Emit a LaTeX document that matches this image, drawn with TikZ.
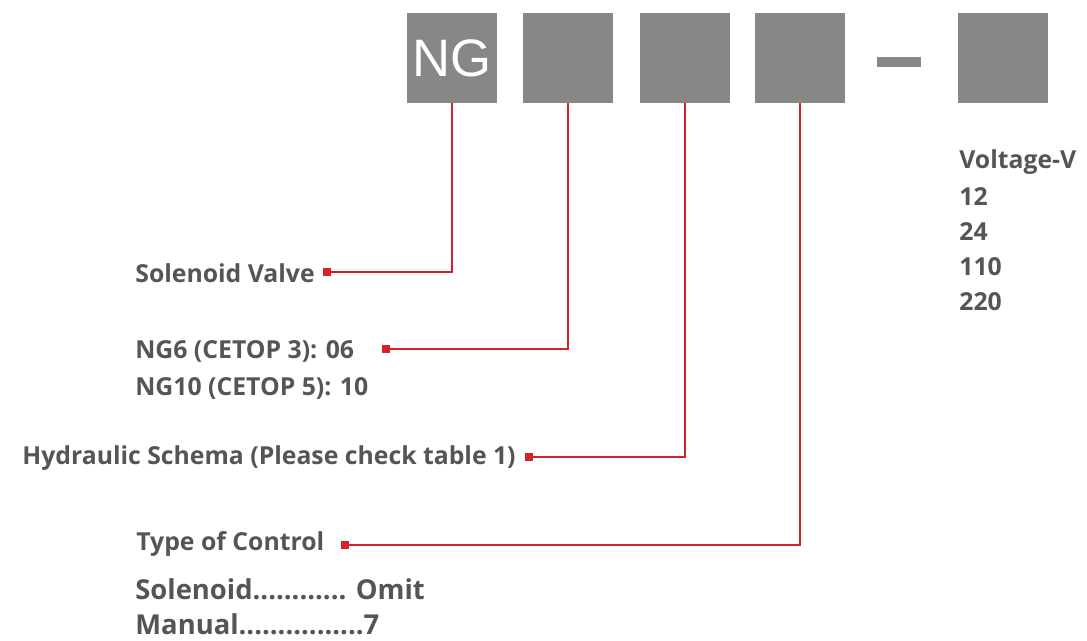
\documentclass[tikz,border=0pt]{standalone}
\usepackage{fontspec}
\setmainfont{Open Sans}
\newfontfamily\boxfont{Liberation Sans}
\usetikzlibrary{positioning}
\definecolor{boxgrey}{HTML}{878786}
\definecolor{textgrey}{HTML}{555555}
\definecolor{linered}{HTML}{D3222A}
\tikzstyle{codebox} = [fill=boxgrey, minimum width=1.8cm, minimum height=1.8cm, inner sep=0pt]
\tikzstyle{label} = [textgrey, anchor=west, inner sep=0pt, font=\fontsize{14.1}{17}\selectfont\bfseries]
\tikzstyle{biglabel} = [label, font=\fontsize{15.6}{19}\selectfont\bfseries]
\tikzstyle{marker} = [fill=linered, minimum size=0.15cm, inner sep=0pt]
\tikzstyle{link} = [linered, line width=0.9pt]
\newcommand{\codeBox}[3]{
  \node[codebox] (#1) at (#2,58) {#3};
}

\begin{document}
\begin{tikzpicture}[x=0.02cm,y=-0.02cm]
      \useasboundingbox (0,0) rectangle (1087,641);

      % order code boxes
      \codeBox{b1}{452}{\boxfont\fontsize{30}{30}\selectfont\color{white}NG}
      \codeBox{b2}{568}{}
      \codeBox{b3}{685}{}
      \codeBox{b4}{800}{}
      \codeBox{b5}{1003}{}
      \node[fill=boxgrey, minimum width=0.88cm, minimum height=0.2cm, inner sep=0pt] (dash) at (899,62) {};

      % labels
      \node[label] (valve) at (135,273) {Solenoid Valve};
      \node[label] (ng6) at (135,351) {NG6 (CETOP 3): 06};
      \node[label] (ng10) at (135,388) {NG10 (CETOP 5): 10};
      \node[label] (schema) at (22,458) {Hydraulic Schema (Please check table 1)};
      \node[label] (control) at (136,544) {Type of Control};
      \node[biglabel] (sol) at (135,589) {Solenoid............ Omit};
      \node[biglabel] (man) at (135,624) {Manual................7};

      \node[label] (volt) at (959,162) {Voltage-V};
      \node[label] (v12) at (959,197) {12};
      \node[label] (v24) at (959,232) {24};
      \node[label] (v110) at (959,267) {110};
      \node[label] (v220) at (959,302) {220};

      % connectors
      \node[marker] (s1) at (327,272) {};
      \node[marker] (s2) at (386,349) {};
      \node[marker] (s3) at (529,457) {};
      \node[marker] (s4) at (345,545) {};
      \draw[link] (b1.south) |- (s1);
      \draw[link] (b2.south) |- (s2);
      \draw[link] (b3.south) |- (s3);
      \draw[link] (b4.south) |- (s4);
    \end{tikzpicture}
\end{document}
